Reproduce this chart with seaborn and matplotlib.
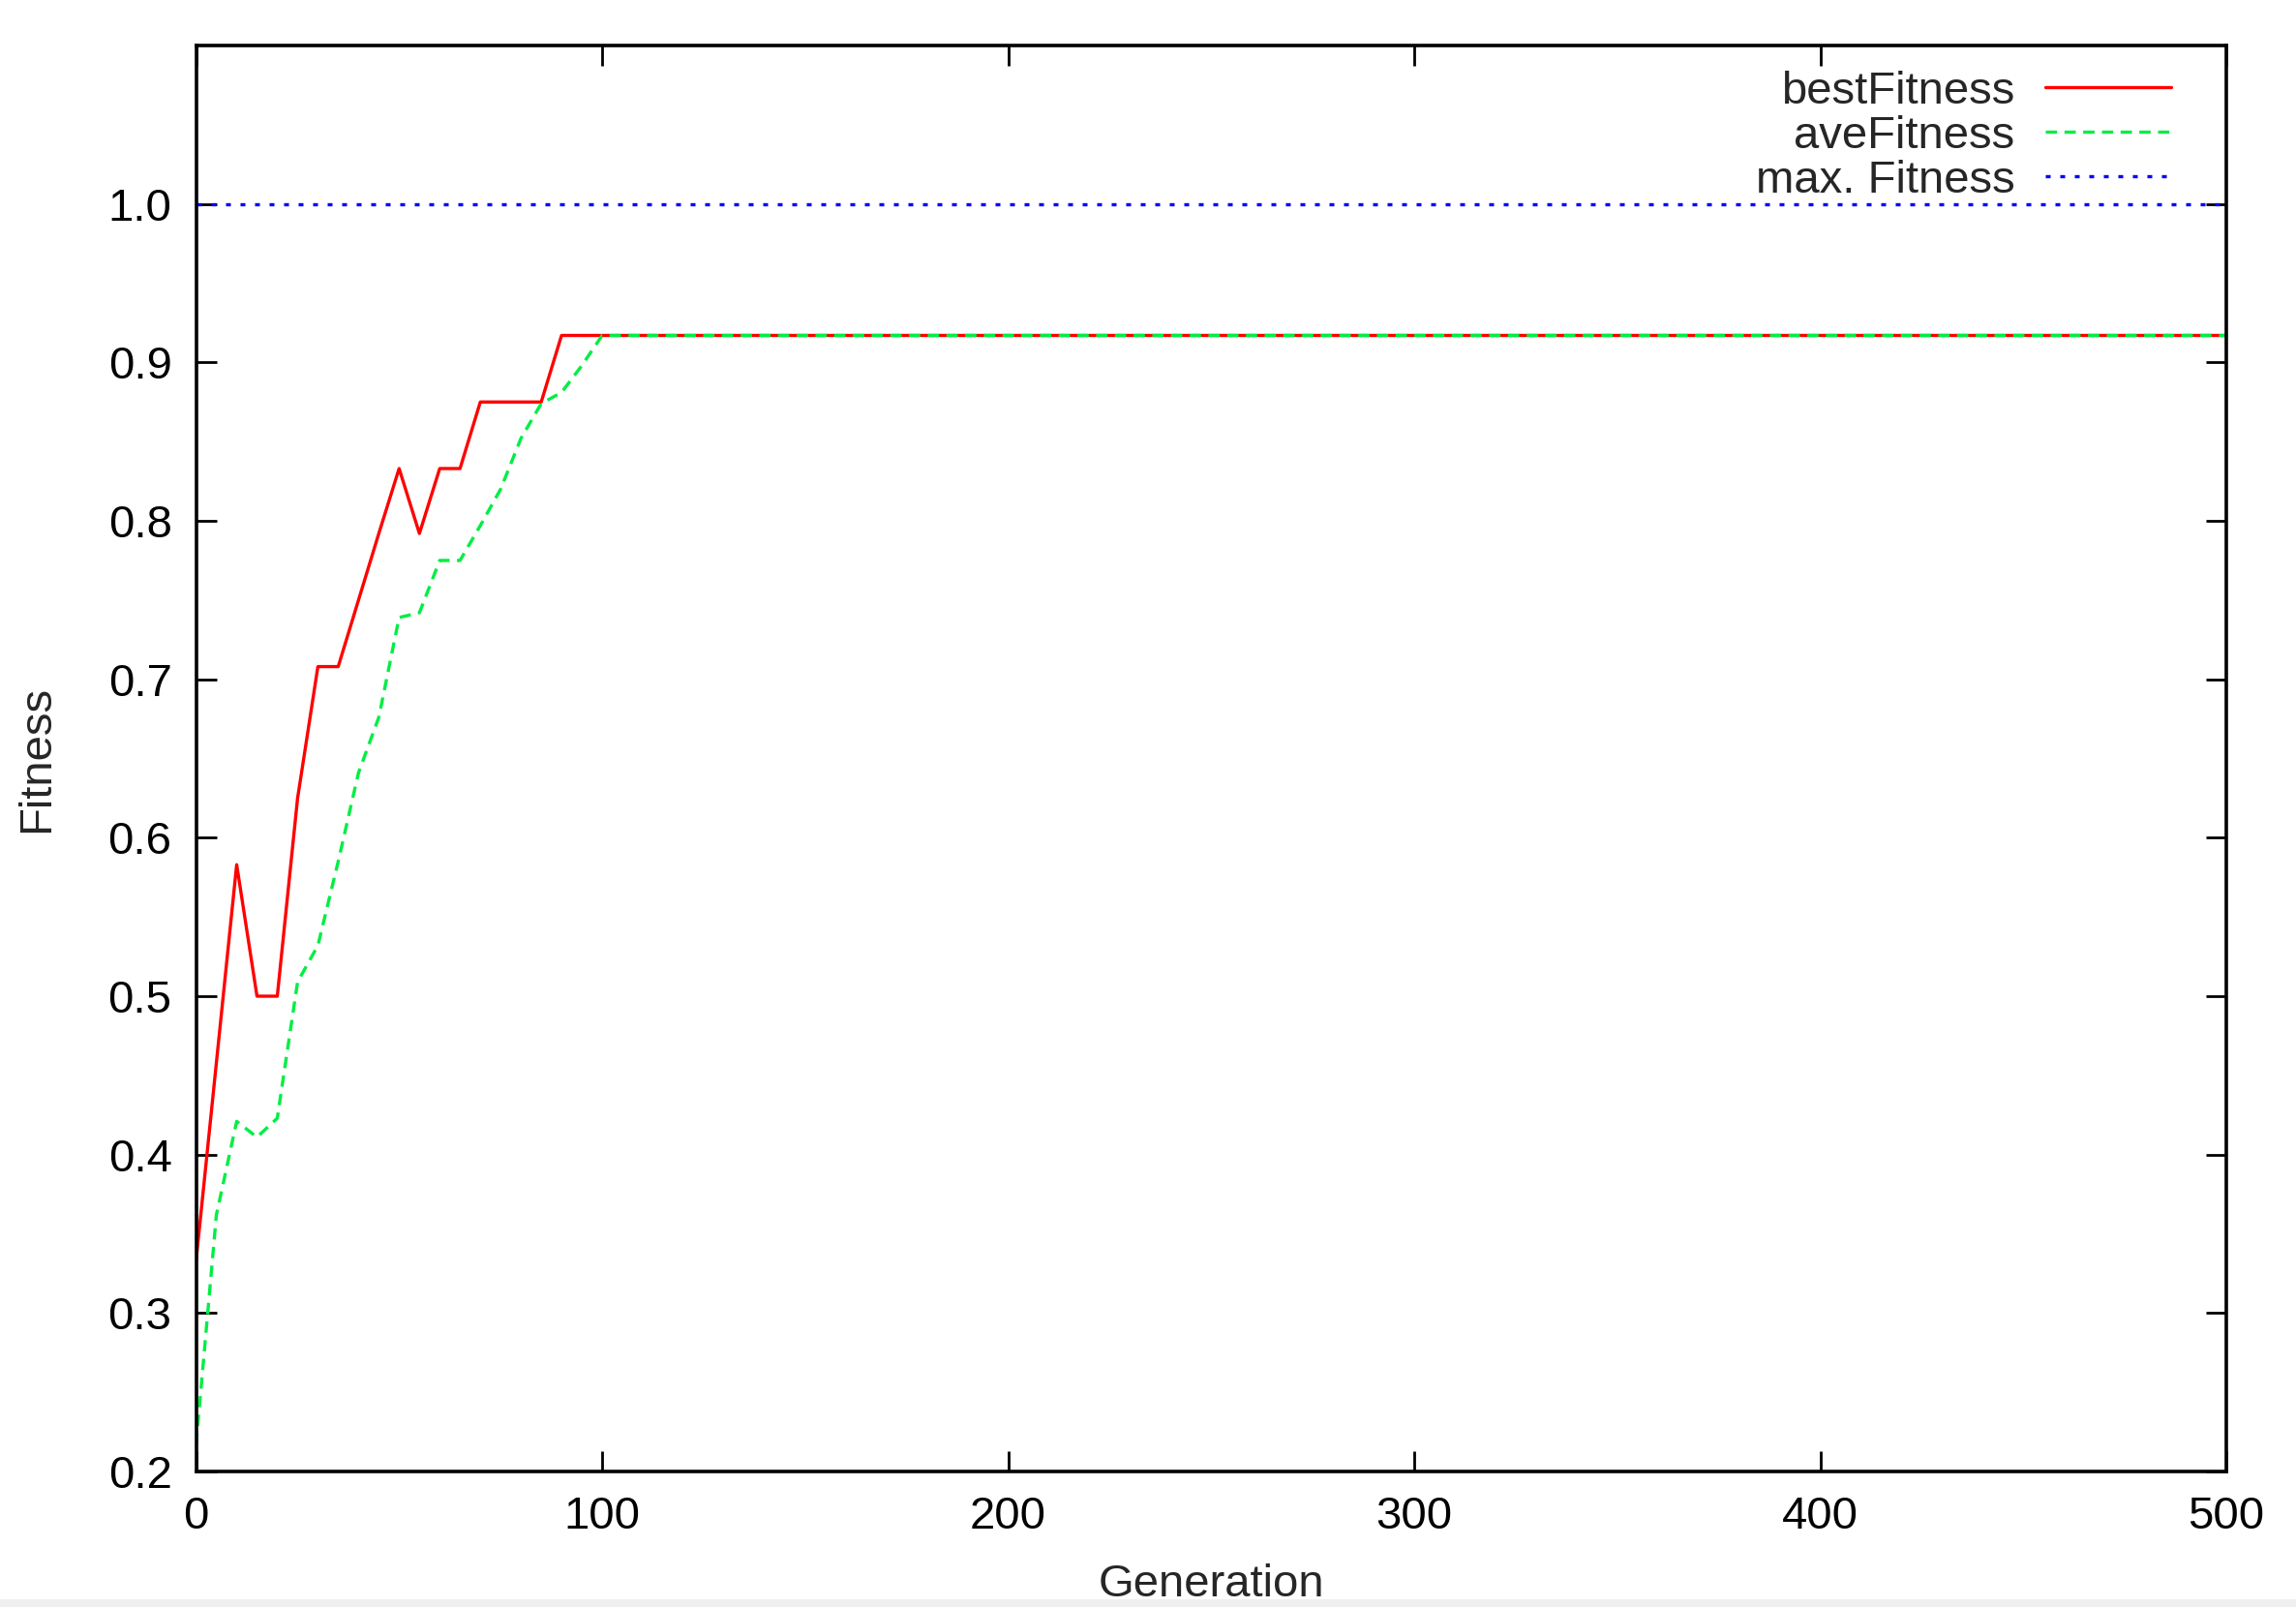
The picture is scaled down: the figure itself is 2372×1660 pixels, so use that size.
import pandas as pd
import seaborn as sns
import matplotlib.pyplot as plt
from matplotlib.patches import Rectangle

# Dados (geração a cada 5, depois constante até 500)
generation = [0, 5, 10, 15, 20, 25, 30, 35, 40, 45, 50,
              55, 60, 65, 70, 75, 80, 85, 90, 95, 100, 500]
best_fitness = [0.333, 0.458, 0.583, 0.5, 0.5, 0.625, 0.708, 0.708, 0.75, 0.792, 0.833,
                0.792, 0.833, 0.833, 0.875, 0.875, 0.875, 0.875, 0.917, 0.917, 0.917, 0.917]
ave_fitness = [0.217, 0.362, 0.421, 0.411, 0.423, 0.509, 0.532, 0.585, 0.641, 0.676, 0.739,
               0.742, 0.775, 0.775, 0.797, 0.82, 0.852, 0.874, 0.881, 0.898, 0.917, 0.917]
max_generation = [0, 500]
max_fitness = [1.0, 1.0]

x_ticks = [0, 100, 200, 300, 400, 500]
y_ticks = [0.2, 0.3, 0.4, 0.5, 0.6, 0.7, 0.8, 0.9, 1.0]

# Estilo
sns.set_style('ticks')
plt.rcParams['font.family'] = ['Liberation Sans', 'DejaVu Sans']
fs = 17

fig = plt.figure(figsize=(11.86, 8.3), dpi=200)
ax = fig.add_axes([0.0854, 0.0843, 0.8843, 0.8874])

sns.lineplot(x=generation, y=best_fitness, color='#ff0000', lw=1.2,
             label='bestFitness', ax=ax)
sns.lineplot(x=generation, y=ave_fitness, color='#00ee44', lw=1.2,
             linestyle=(0, (3.5, 2.3)), label='aveFitness', ax=ax)
sns.lineplot(x=max_generation, y=max_fitness, color='#0000ff', lw=1.2,
             linestyle=(0, (1.5, 3.0)), label='max. Fitness', ax=ax)

ax.set_xlim(0, 500)
ax.set_ylim(0.2, 1.1)
ax.set_xticks(x_ticks)
ax.set_yticks(y_ticks)
ax.set_xticklabels([str(t) for t in x_ticks])
ax.set_yticklabels([f'{t:.1f}' for t in y_ticks])
ax.tick_params(direction='in', length=7.5, width=1.0, top=True, right=True,
               labelsize=fs, pad=9, colors='black')
for s in ax.spines.values():
    s.set_visible(True)
    s.set_linewidth(1.3)
    s.set_color('black')

ax.set_xlabel('Generation', fontsize=fs, va='center')
ax.set_ylabel('Fitness', fontsize=fs, va='center')
ax.xaxis.set_label_coords(0.5, -0.0794)
ax.yaxis.set_label_coords(-0.0784, 0.5)

leg = ax.legend(loc='upper right', bbox_to_anchor=(0.9728, 0.9825), frameon=False,
                markerfirst=False, fontsize=fs, handlelength=2.75, handletextpad=0.67,
                labelspacing=0.04, borderaxespad=0, borderpad=0)

# faixa cinza na borda inferior
fig.patches.append(Rectangle((0, 0), 1, 0.0042, transform=fig.transFigure,
                             color='#efefef', zorder=-1))

fig.savefig('out.png', dpi=200)
